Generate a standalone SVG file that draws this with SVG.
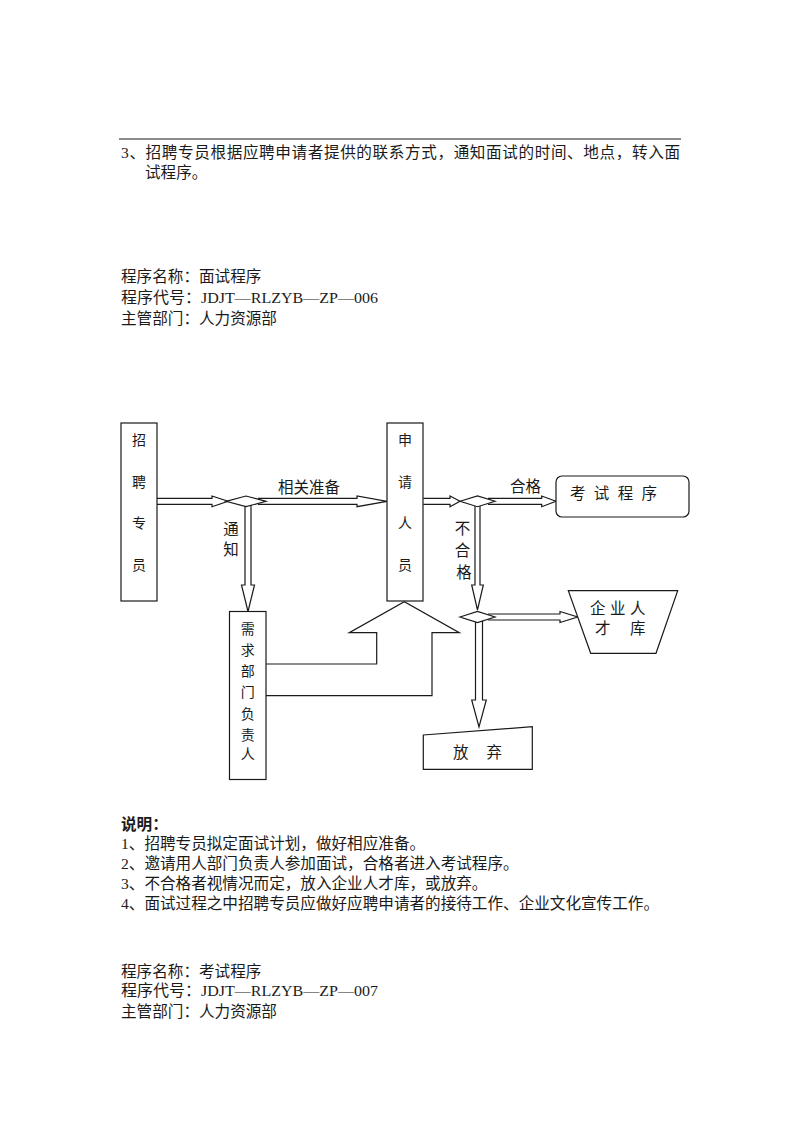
<svg xmlns="http://www.w3.org/2000/svg" width="800" height="1132" viewBox="0 0 800 1132">
<style>
.t{font-family:"Liberation Serif","Noto Sans CJK SC",serif;fill:#1a1a1a;font-size:15.6px}
.n{font-family:"Liberation Serif","Noto Sans CJK SC",serif;fill:#1a1a1a;font-size:14px;text-anchor:middle}
.l{font-family:"Liberation Serif","Noto Sans CJK SC",serif;fill:#1a1a1a;font-size:15.5px}
.s{fill:#fff;stroke:#1a1a1a;stroke-width:1.2}
.c{fill:#fff;stroke:#1a1a1a;stroke-width:1.2;stroke-linejoin:miter}
</style>
<rect width="800" height="1132" fill="#fff"/>

<g id="header">
<line x1="119" y1="139" x2="681" y2="139" stroke="#1a1a1a" stroke-width="1.2"/>
<text class="t" x="121" y="157.8" font-size="16" textLength="559" lengthAdjust="spacing">3、招聘专员根据应聘申请者提供的联系方式，通知面试的时间、地点，转入面</text>
<text class="t" x="145" y="177.8" font-size="16">试程序。</text>
<text class="t" x="121" y="282.4">程序名称：面试程序</text>
<text class="t" x="121" y="303" textLength="257" lengthAdjust="spacingAndGlyphs">程序代号：JDJT—RLZYB—ZP—006</text>
<text class="t" x="121" y="324">主管部门：人力资源部</text>
</g>

<g id="connectors">
<path class="c" d="M157,498.3 H212 V496 L228,501.3 L212,506.7 V504.3 H157"/>
<path class="c" d="M258,498.3 H357 V496 L387,501.3 L357,506.7 V504.3 H258"/>
<path class="c" d="M245,505 V585 H241.5 L248,611.5 L254.5,585 H251 V505"/>
<path class="c" d="M423.3,498.3 H450 V496 L460,501.3 L450,506.7 V504.3 H423.3"/>
<path class="c" d="M488,498.3 H541.7 V496 L556,501.3 L541.7,506.7 V504.3 H488"/>
<path class="c" d="M475,505 V585 H471.7 L477.5,610 L483.3,585 H480 V505"/>
<path class="c" d="M488,614 H560 V611.5 L577.7,617 L560,622.5 V620 H488"/>
<path class="c" d="M475.5,620 V700 H471.7 L479,727 L486.3,700 H482.5 V620"/>
<path class="c" d="M266,664 H376.7 V632.7 H349.3 L404.3,601.7 L459.3,632.7 H432 V695.7 H266"/>
<text class="l" x="278" y="493.4" textLength="62" lengthAdjust="spacing">相关准备</text>
<text class="l" x="510" y="492.4" font-size="15">合格</text>
<text class="l" x="231" y="534.5" font-size="15" text-anchor="middle">通</text>
<text class="l" x="231" y="554.7" font-size="15" text-anchor="middle">知</text>
<text class="l" x="462.5" y="534.4" font-size="16" text-anchor="middle">不</text>
<text class="l" x="462.5" y="556" font-size="16" text-anchor="middle">合</text>
<text class="l" x="464" y="577.8" font-size="16" text-anchor="middle">格</text>
</g>

<g id="recruiter">
<rect class="s" x="121" y="423" width="36" height="178"/>
<text class="n" x="139" y="445.3">招</text>
<text class="n" x="139" y="487.3">聘</text>
<text class="n" x="139" y="528.3">专</text>
<text class="n" x="139" y="570.3">员</text>
</g>

<g id="applicant">
<rect class="s" x="387" y="423" width="36" height="178"/>
<text class="n" x="405" y="445.3">申</text>
<text class="n" x="405" y="487.3">请</text>
<text class="n" x="405" y="528.3">人</text>
<text class="n" x="405" y="570.3">员</text>
</g>

<g id="dept-head">
<rect class="s" x="229.5" y="611.5" width="36.5" height="168"/>
<text class="n" x="247.7" y="634.3">需</text>
<text class="n" x="247.7" y="655.3">求</text>
<text class="n" x="247.7" y="676.3">部</text>
<text class="n" x="247.7" y="697.3">门</text>
<text class="n" x="247.7" y="719.3">负</text>
<text class="n" x="247.7" y="740.3">责</text>
<text class="n" x="247.7" y="759.3">人</text>
</g>

<g id="decision-1">
<path class="s" d="M226,501.3 L246,496 L266,501.3 L246,506.7 Z"/>
</g>
<g id="decision-2">
<path class="s" d="M460,501.3 L477.5,496 L495,501.3 L477.5,506.7 Z"/>
</g>
<g id="decision-3">
<path class="s" d="M460,617 L477.5,611.5 L495,617 L477.5,622.5 Z"/>
</g>

<g id="exam">
<rect class="s" x="556" y="476" width="133" height="41" rx="6"/>
<text class="l" x="570" y="498.6" font-size="14" textLength="87" lengthAdjust="spacing">考 试 程 序</text>
</g>

<g id="talent-pool">
<path class="s" d="M568.3,590.7 H677.7 L656,653.3 H590.7 Z"/>
<text class="l" x="590" y="613.6" font-size="14" textLength="55.5" lengthAdjust="spacing">企 业 人</text>
<text class="l" x="595" y="633.6" font-size="14" textLength="50.5" lengthAdjust="spacing">才 库</text>
</g>

<g id="abandon">
<path class="s" d="M423.3,735 L532.3,726.7 V769.3 H423.3 Z"/>
<text class="l" x="453" y="757.8" font-size="16" textLength="49" lengthAdjust="spacing">放 弃</text>
</g>

<g id="notes">
<text class="t" x="121" y="830" font-size="16" font-weight="bold">说明：</text>
<text class="t" x="121" y="849" font-size="16">1、招聘专员拟定面试计划，做好相应准备。</text>
<text class="t" x="121" y="869" font-size="16">2、邀请用人部门负责人参加面试，合格者进入考试程序。</text>
<text class="t" x="121" y="889" font-size="16">3、不合格者视情况而定，放入企业人才库，或放弃。</text>
<text class="t" x="121" y="909" font-size="16">4、面试过程之中招聘专员应做好应聘申请者的接待工作、企业文化宣传工作。</text>
<text class="t" x="121" y="976.7">程序名称：考试程序</text>
<text class="t" x="121" y="996" textLength="257" lengthAdjust="spacingAndGlyphs">程序代号：JDJT—RLZYB—ZP—007</text>
<text class="t" x="121" y="1017">主管部门：人力资源部</text>
</g>
</svg>
